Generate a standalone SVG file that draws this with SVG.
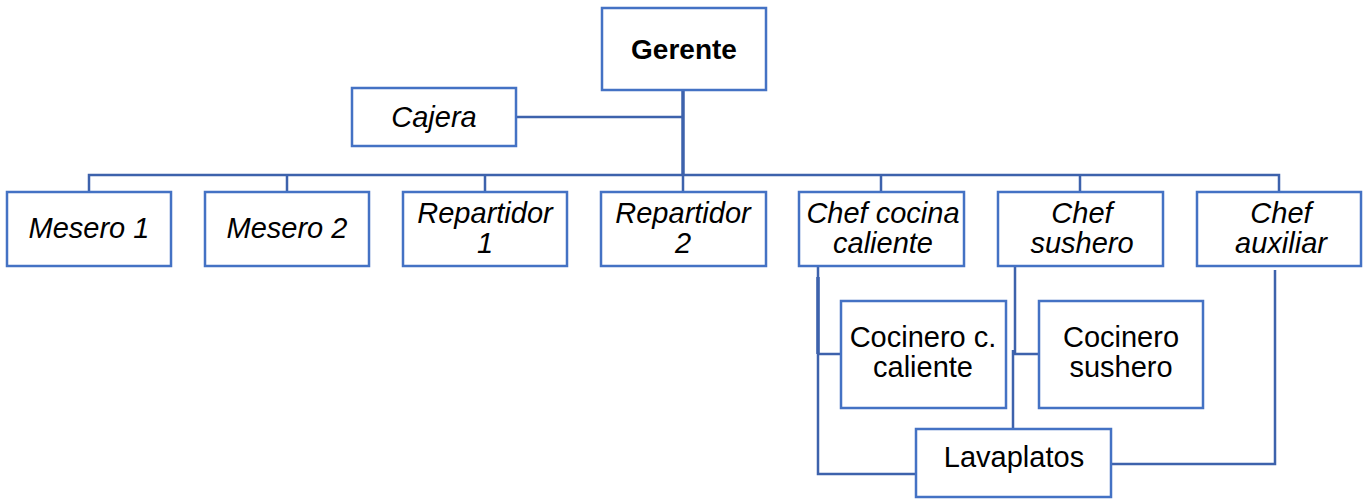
<svg xmlns="http://www.w3.org/2000/svg" width="1365" height="499" viewBox="0 0 1365 499">
<style>
.box{fill:#fff;stroke:#4472C4;stroke-width:2.5}
.t{font-family:"Liberation Sans",Arial,sans-serif;font-size:29px;fill:#000;text-anchor:middle}
.i{font-style:italic}
.b{font-weight:bold;font-size:28px}
.c{fill:none;stroke:#3D62AC;stroke-width:2.5}
</style>
<rect width="1365" height="499" fill="#fff"/>
<g id="connectors">
<path class="c" d="M683 90V175" style="stroke-width:3.5"/>
<path class="c" d="M516 117H683"/>
<path class="c" d="M89 192V175H1279V192M287 175V192M485 175V192M683 175V192M881 175V192M1080 175V192"/>
<path class="c" d="M818 266V474H916" />
<path class="c" d="M818 277V354" style="stroke-width:3.5"/>
<path class="c" d="M818 354H841"/>
<path class="c" d="M1015 266V354H1039"/>
<path class="c" d="M1013 350V429"/>
<path class="c" d="M1275 270V464H1111"/>
</g>
<g id="gerente"><rect class="box" x="602" y="8" width="164" height="82"/><text class="t b" x="684" y="59">Gerente</text></g>
<g id="cajera"><rect class="box" x="352" y="88" width="164" height="58"/><text class="t i" x="434" y="127">Cajera</text></g>
<g id="mesero1"><rect class="box" x="7" y="192" width="164" height="74"/><text class="t i" x="89" y="238">Mesero  1</text></g>
<g id="mesero2"><rect class="box" x="205" y="192" width="164" height="74"/><text class="t i" x="287" y="238">Mesero 2</text></g>
<g id="repartidor1"><rect class="box" x="403" y="192" width="164" height="74"/><text class="t i" x="485" y="223">Repartidor</text><text class="t i" x="485" y="253">1</text></g>
<g id="repartidor2"><rect class="box" x="601" y="192" width="165" height="74"/><text class="t i" x="683" y="223">Repartidor</text><text class="t i" x="683" y="253">2</text></g>
<g id="chef-cocina"><rect class="box" x="799" y="192" width="165" height="74"/><text class="t i" x="883" y="223">Chef cocina</text><text class="t i" x="883" y="253">caliente</text></g>
<g id="chef-sushero"><rect class="box" x="998" y="192" width="165" height="74"/><text class="t i" x="1082" y="223">Chef</text><text class="t i" x="1082" y="253">sushero</text></g>
<g id="chef-auxiliar"><rect class="box" x="1197" y="192" width="164" height="74"/><text class="t i" x="1281" y="223">Chef</text><text class="t i" x="1281" y="253">auxiliar</text></g>
<g id="cocinero-cc"><rect class="box" x="841" y="301" width="165" height="107"/><text class="t" x="923" y="347">Cocinero c.</text><text class="t" x="923" y="377">caliente</text></g>
<g id="cocinero-sushero"><rect class="box" x="1039" y="301" width="164" height="107"/><text class="t" x="1121" y="347">Cocinero</text><text class="t" x="1121" y="377">sushero</text></g>
<g id="lavaplatos"><rect class="box" x="916" y="429" width="195" height="68"/><text class="t" x="1014" y="467">Lavaplatos</text></g>
</svg>
